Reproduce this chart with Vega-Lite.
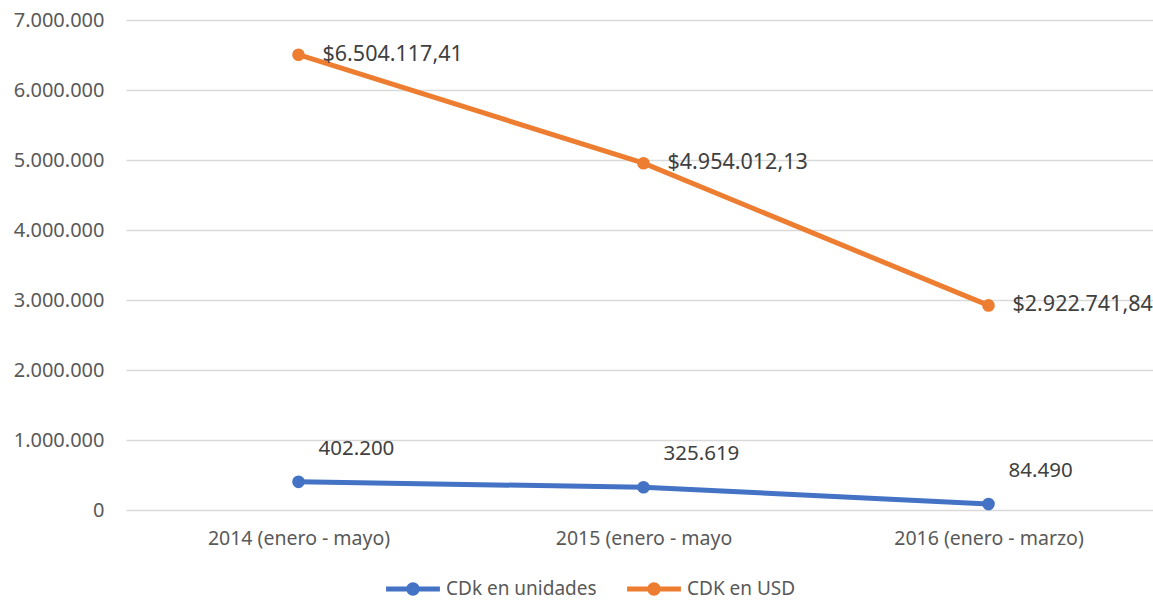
{
  "$schema": "https://vega.github.io/schema/vega-lite/v6.json",
  "width": 1035,
  "height": 490,
  "autosize": {"type": "none"},
  "padding": {"left": 126, "top": 20, "right": 0, "bottom": 90},
  "background": "white",
  "config": {
    "locale": {"number": {"decimal": ",", "thousands": ".", "grouping": [3], "currency": ["$", ""]}},
    "view": {"stroke": null},
    "font": "Noto Sans"
  },
  "data": {
    "values": [
      {"serie": "CDk en unidades", "periodo": "2014 (enero - mayo)", "valor": 402200, "etiqueta": "402.200"},
      {"serie": "CDk en unidades", "periodo": "2015 (enero - mayo", "valor": 325619, "etiqueta": "325.619"},
      {"serie": "CDk en unidades", "periodo": "2016 (enero - marzo)", "valor": 84490, "etiqueta": "84.490"},
      {"serie": "CDK en USD", "periodo": "2014 (enero - mayo)", "valor": 6504117.41, "etiqueta": "$6.504.117,41"},
      {"serie": "CDK en USD", "periodo": "2015 (enero - mayo", "valor": 4954012.13, "etiqueta": "$4.954.012,13"},
      {"serie": "CDK en USD", "periodo": "2016 (enero - marzo)", "valor": 2922741.84, "etiqueta": "$2.922.741,84"}
    ]
  },
  "encoding": {
    "x": {
      "field": "periodo", "type": "ordinal", "sort": null,
      "scale": {"type": "point", "padding": 0.5},
      "axis": {"title": null, "labelAngle": 0, "ticks": false, "domain": false, "grid": false,
               "labelFontSize": 19.5, "labelLimit": 0, "labelColor": "#595959", "labelPadding": 19}
    },
    "y": {
      "field": "valor", "type": "quantitative",
      "scale": {"domain": [0, 7000000]},
      "axis": {"title": null, "values": [0,1000000,2000000,3000000,4000000,5000000,6000000,7000000],
               "format": ",d", "ticks": false, "domain": false, "gridColor": "#d9d9d9", "gridWidth": 1.5,
               "labelOverlap": false, "labelFlush": false,
               "labelFontSize": 20, "labelColor": "#595959", "labelPadding": 22}
    }
  },
  "layer": [
    {
      "mark": {"type": "line", "strokeWidth": 5, "point": {"filled": true, "size": 160, "opacity": 1}},
      "encoding": {
        "color": {
          "field": "serie", "type": "nominal",
          "scale": {"domain": ["CDk en unidades", "CDK en USD"], "range": ["#4472C4", "#ED7D31"]},
          "legend": {
            "title": null, "orient": "none", "direction": "horizontal",
            "legendX": 260, "legendY": 542,
            "symbolType": "M -1 -0.09 L 1 -0.09 L 1 0.09 L -1 0.09 Z M 0.25 0 A 0.25 0.25 0 1 1 -0.25 0 A 0.25 0.25 0 1 1 0.25 0 Z",
            "symbolSize": 2900, "symbolStrokeWidth": 0,
            "labelFontSize": 19, "labelColor": "#595959", "labelOffset": 6, "columnPadding": 30, "labelLimit": 0,
            "encode": {"symbols": {"update": {"fill": {"scale": "color", "field": "value"}, "strokeWidth": {"value": 0}, "opacity": {"value": 1}}}}
          }
        }
      }
    },
    {
      "transform": [{"filter": "datum.serie == 'CDK en USD'"}],
      "mark": {"type": "text", "align": "left", "baseline": "middle", "dx": 24, "dy": 0, "fontSize": 21.5, "color": "#404040"},
      "encoding": {"text": {"field": "etiqueta"}}
    },
    {
      "transform": [{"filter": "datum.serie == 'CDk en unidades'"}],
      "mark": {"type": "text", "align": "left", "baseline": "middle", "dx": 20, "dy": -33, "fontSize": 20.5, "color": "#404040"},
      "encoding": {"text": {"field": "etiqueta"}}
    }
  ]
}
